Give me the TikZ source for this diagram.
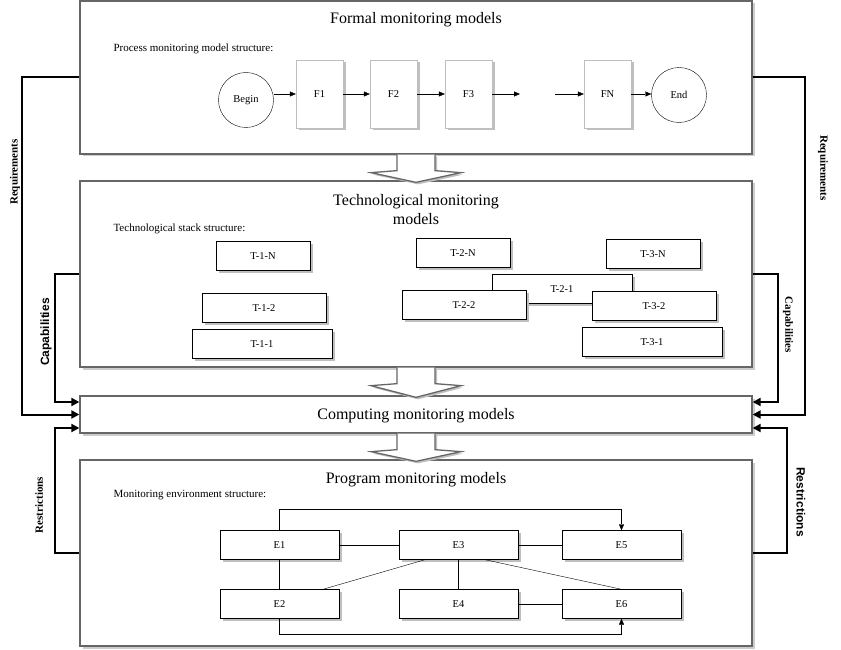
\documentclass[tikz,border=0pt]{standalone}
\usepackage{fontspec}
\setmainfont{Liberation Serif}
\newfontfamily\labelsans{Liberation Sans}
\usetikzlibrary{arrows.meta,shadows}

\tikzset{
  panel/.style={draw=black!60, line width=1.3pt, fill=white, inner sep=0pt,
    drop shadow={shadow xshift=2.5pt, shadow yshift=-2.5pt, fill=black!20, opacity=1}},
  blockarrow/.style={draw=black!60, line width=1.3pt, fill=white,
    drop shadow={shadow xshift=2pt, shadow yshift=-2pt, fill=black!25, opacity=1}},
  title/.style={font=\fontsize{16}{19}\selectfont, align=center},
  caption/.style={font=\fontsize{11}{13}\selectfont, anchor=west},
  fbox/.style={draw=black!25, fill=white, minimum width=47pt, minimum height=68pt,
    font=\fontsize{10.5}{12}\selectfont,
    drop shadow={shadow xshift=2.5pt, shadow yshift=-2.5pt, fill=black!25, opacity=1}},
  ends/.style={circle, draw, thin, fill=white, minimum size=55pt, inner sep=0pt,
    font=\fontsize{10.5}{12}\selectfont},
  tbox/.style={draw, thin, fill=white, minimum height=29pt, inner sep=0pt,
    font=\fontsize{10.5}{12}\selectfont,
    drop shadow={shadow xshift=2.5pt, shadow yshift=-2.5pt, fill=black!25, opacity=1}},
  ebox/.style={tbox, minimum width=119pt},
  flow/.style={-{Triangle[length=6pt,width=5pt]}, thin},
  elink/.style={thin},
  side/.style={line width=2pt, -{Triangle[length=8pt,width=8pt]}},
  serifside/.style={font=\fontsize{11}{13}\selectfont\bfseries},
  sansside/.style={font=\fontsize{12}{14}\labelsans\bfseries},
}

\begin{document}
\begin{tikzpicture}[x=1pt,y=-1pt]
\useasboundingbox (0,0) rectangle (841,650);

% Pannelli
\node[panel, minimum width=672pt, minimum height=153pt] (formal) at (416,77.5) {};
\node[panel, minimum width=672pt, minimum height=186pt] (tech) at (416,274) {};
\node[panel, minimum width=672pt, minimum height=37pt] (comp) at (416,414.5) {};
\node[panel, minimum width=672pt, minimum height=186pt] (prog) at (416,553) {};

% Frecce tra i pannelli
\foreach \a/\b in {formal/tech, tech/comp, comp/prog}
  \draw[blockarrow] ([xshift=-19pt]\a.south) -- ([xshift=-19pt,yshift=-16pt]\a.south)
    -- ([xshift=-45pt,yshift=-18pt]\a.south) -- ([yshift=-2pt]\b.north)
    -- ([xshift=45pt,yshift=-18pt]\a.south) -- ([xshift=19pt,yshift=-16pt]\a.south)
    -- ([xshift=19pt]\a.south);

% Titoli
\node[title] (formaltitle) at (416,20) {Formal monitoring models};
\node[title] (techtitle) at (416,210) {Technological monitoring\\models};
\node[title] (comptitle) at (416,415.5) {Computing monitoring models};
\node[title] (progtitle) at (416,480) {Program monitoring models};

\node[caption] (formalcap) at (110,49) {Process monitoring model structure:};
\node[caption] (techcap) at (110,229) {Technological stack structure:};
\node[caption] (progcap) at (110,495) {Monitoring environment structure:};

% Processo
\node[ends] (begin) at (246,100) {Begin};
\node[fbox] (f1) at (319.5,94) {F1};
\node[fbox] (f2) at (393.5,94) {F2};
\node[fbox] (f3) at (468.5,94) {F3};
\node[fbox] (fn) at (607.5,94) {FN};
\node[ends] (end) at (679,95) {End};
\coordinate (gapl) at (520,94);
\coordinate (gapr) at (555,94);

\draw[flow] (begin.east |- f1.west) -- (f1.west);
\draw[flow] (f1) -- (f2);
\draw[flow] (f2) -- (f3);
\draw[flow] (f3) -- (gapl);
\draw[flow] (gapr) -- (fn);
\draw[flow] (fn.east) -- (fn.east -| end.west);

% Stack tecnologico
\node[tbox, minimum width=94pt] (t1n) at (263,256) {T-1-N};
\node[tbox, minimum width=124pt] (t12) at (264,308) {T-1-2};
\node[tbox, minimum width=140pt] (t11) at (262,344) {T-1-1};
\node[tbox, minimum width=94pt] (t2n) at (463,253) {T-2-N};
\node[tbox, minimum width=140pt] (t21) at (562,289) {T-2-1};
\node[tbox, minimum width=124pt] (t22) at (464,305) {T-2-2};
\node[tbox, minimum width=94pt] (t3n) at (653,254) {T-3-N};
\node[tbox, minimum width=124pt] (t32) at (654,306) {T-3-2};
\node[tbox, minimum width=140pt] (t31) at (652,342) {T-3-1};

% Ambiente
\node[ebox] (e1) at (279.5,545) {E1};
\node[ebox] (e3) at (458.5,545) {E3};
\node[ebox] (e5) at (621.5,545) {E5};
\node[ebox] (e2) at (279.5,604) {E2};
\node[ebox] (e4) at (458.5,604) {E4};
\node[ebox] (e6) at (621.5,604) {E6};

\draw[elink] (e1) -- (e3);
\draw[elink] (e3) -- (e5);
\draw[elink] (e4) -- (e6);
\draw[elink] (e1) -- (e2);
\draw[elink] (e3) -- (e4);
\draw[elink] ([xshift=-33.5pt]e3.south) -- ([xshift=43.5pt]e2.north);
\draw[elink] ([xshift=26.5pt]e3.south) -- (e6.north);
\draw[flow] (e1.north) -- ++(0,-21) -| (e5.north);
\draw[flow] (e2.south) -- ++(0,15) -| (e6.south);

% Collegamenti laterali
\draw[side] (formal.west) -- ++(-57,0) |- (comp.west);
\draw[side] (tech.west) -- ++(-24,0) |- ([yshift=12.5pt]comp.west);
\draw[side] (prog.west) -- ++(-24,0) |- ([yshift=-13.5pt]comp.west);
\draw[side] (formal.east) -- ++(52,0) |- (comp.east);
\draw[side] (tech.east) -- ++(25,0) |- ([yshift=12.5pt]comp.east);
\draw[side] (prog.east) -- ++(34,0) |- ([yshift=-13.5pt]comp.east);

% Etichette
\node[serifside, rotate=90] (reql) at (15,172) {Requirements};
\node[sansside, rotate=90] (capl) at (46,332) {Capabilities};
\node[serifside, rotate=90] (resl) at (39,505) {Restrictions};
\node[serifside, rotate=-90] (reqr) at (823,168) {Requirements};
\node[serifside, rotate=-90] (capr) at (788,325) {Capabilities};
\node[sansside, rotate=-90] (resr) at (801,502) {Restrictions};
\end{tikzpicture}
\end{document}
